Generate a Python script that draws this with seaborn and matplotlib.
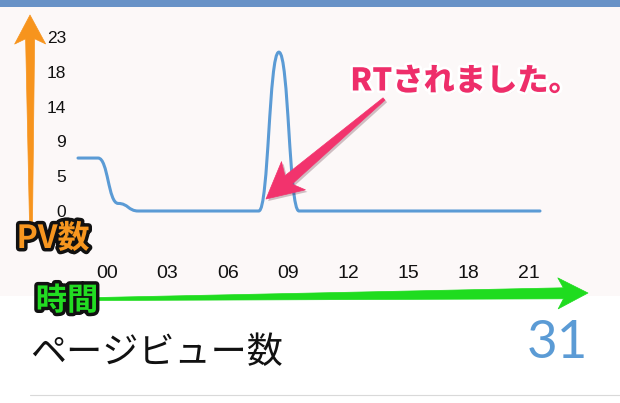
import numpy as np
import matplotlib
matplotlib.use("Agg")
import matplotlib.pyplot as plt
import matplotlib.patheffects as pe
from matplotlib.path import Path
from matplotlib.patches import PathPatch, Rectangle, Polygon
import seaborn as sns

# hourly page views (one point per hour slot)
hour_slot = list(range(24))
page_views = [7, 7, 1, 0, 0, 0, 0, 0, 0, 0, 21, 0,
              0, 0, 0, 0, 0, 0, 0, 0, 0, 0, 0, 0]

x_tick_labels = ["00", "03", "06", "09", "12", "15", "18", "21"]
y_tick_labels = ["0", "5", "9", "14", "18", "23"]
y_max = 23
total_views = "31"

title_text = "ページビュー数"
rt_note = "RTされました。"
y_note = "PV数"
x_note = "時間"

W, H = 620, 403
LINE_BLUE = "#5b9bd5"
CJK = ["Noto Sans CJK JP", "DejaVu Sans"]


def tapered_arrow(ax, tail, tip, w0, w1, hl, hw, color, **kw):
    # thin tail, thick neck, triangular head (skitch style)
    tail = np.asarray(tail, float)
    tip = np.asarray(tip, float)
    d = (tip - tail) / np.linalg.norm(tip - tail)
    n = np.array([-d[1], d[0]])
    base = tip - d * hl
    neck = tip - d * hl * 0.82
    pts = [tail + n * w0 / 2, neck + n * w1 / 2, base + n * hw / 2, tip,
           base - n * hw / 2, neck - n * w1 / 2, tail - n * w0 / 2]
    ax.add_patch(Polygon(pts, closed=True, facecolor=color, edgecolor=color,
                         lw=0.5, joinstyle="round", **kw))


sns.set_style("white")
plt.rcParams["font.family"] = ["Liberation Sans", "DejaVu Sans"]

fig = plt.figure(figsize=(W / 100, H / 100), dpi=100)
fig.patch.set_facecolor("white")

# background bands
bg = fig.add_axes([0, 0, 1, 1], zorder=0)
bg.set_xlim(0, W)
bg.set_ylim(H, 0)
bg.axis("off")
bg.add_patch(Rectangle((0, 7), W, 289, facecolor="#fcf8f8", edgecolor="none"))
bg.add_patch(Rectangle((0, 0), W, 7, facecolor="#6892c7", edgecolor="none"))
bg.plot([30, W], [394.5, 394.5], color="#d9d9d9", lw=0.8)

# chart
ax = fig.add_axes([78 / W, (H - 211) / H, 462 / W, 174 / H], zorder=1)
ax.set_facecolor("none")
sns.lineplot(x=hour_slot, y=page_views, ax=ax, color=LINE_BLUE)

# redraw the line as a horizontal-bezier curve through the same points
line = ax.lines[0]
xy = line.get_xydata()
line.remove()
verts = [tuple(xy[0])]
codes = [Path.MOVETO]
for (x0, y0), (x1, y1) in zip(xy[:-1], xy[1:]):
    xm = (x0 + x1) / 2
    verts += [(xm, y0), (xm, y1), (x1, y1)]
    codes += [Path.CURVE4] * 3
ax.add_patch(PathPatch(Path(verts, codes), facecolor="none", edgecolor=LINE_BLUE,
                       lw=2.2, capstyle="round", joinstyle="round", clip_on=False))

ax.set_xlim(0, 23)
ax.set_ylim(0, y_max)
ax.set_xticks([1.45 + 3 * i for i in range(len(x_tick_labels))])
ax.set_xticklabels(x_tick_labels, fontsize=14, color="#111111")
ax.set_yticks(np.linspace(0, y_max, len(y_tick_labels)))
ax.set_yticklabels(y_tick_labels, fontsize=12.5, color="#111111")
ax.tick_params(axis="x", length=0, pad=39)
ax.tick_params(axis="y", length=0, pad=8.5)
sns.despine(ax=ax, left=True, bottom=True)
ax.set_xlabel("")
ax.set_ylabel("")

# annotations layer
ov = fig.add_axes([0, 0, 1, 1], zorder=3)
ov.set_facecolor("none")
ov.set_xlim(0, W)
ov.set_ylim(H, 0)
ov.axis("off")

tapered_arrow(ov, (31, 223), (30, 15), 3, 9, 29, 31, "#f7941d")
tapered_arrow(ov, (98, 299), (588, 293), 3, 11, 30, 31, "#1fdc1f")
tapered_arrow(ov, (384, 99), (266, 199), 3, 11, 36, 37, "#f2336d",
              path_effects=[pe.SimplePatchShadow(offset=(1.5, -1.5), alpha=0.25), pe.Normal()])

outline_black = [pe.withStroke(linewidth=5, foreground="#111111")]
ov.text(53, 239, y_note, family=CJK, fontsize=23, fontweight="bold",
        color="#f7961f", ha="center", va="center", path_effects=outline_black)
ov.text(67, 301, x_note, family=CJK, fontsize=22.5, fontweight="bold",
        color="#22dd22", ha="center", va="center", path_effects=outline_black)
ov.text(465, 81, rt_note, family=CJK, fontsize=22.5, fontweight="heavy",
        color="#ee2e6a", ha="center", va="center",
        path_effects=[pe.SimplePatchShadow(offset=(1, -1.5), alpha=0.35),
                      pe.Stroke(linewidth=4, foreground="white"), pe.Normal()])

ov.text(30, 353, title_text, family=CJK, fontsize=26, color="#111111",
        ha="left", va="center")
ov.text(588, 344, total_views, family=["Lato", "DejaVu Sans"], fontsize=38,
        fontweight="normal", color=LINE_BLUE, ha="right", va="center")

fig.savefig("out.png", dpi=100)
